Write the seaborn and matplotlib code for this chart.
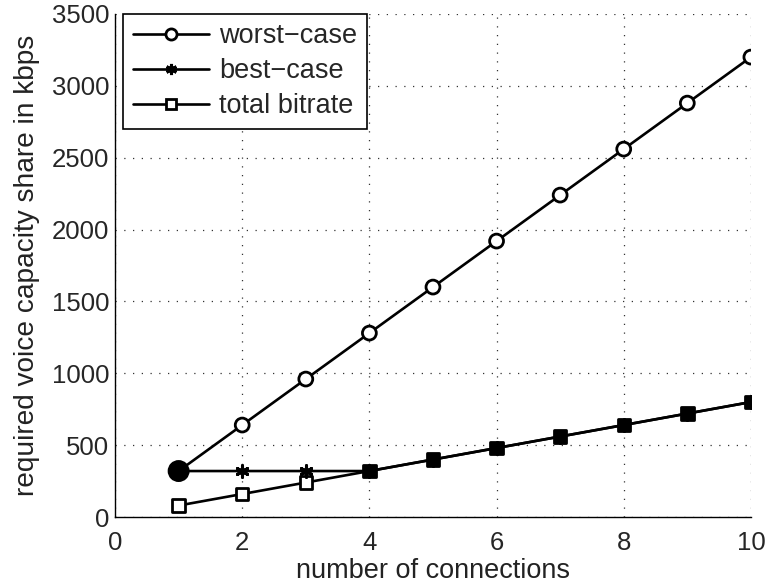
import numpy as np
import pandas as pd
import matplotlib
matplotlib.use("Agg")
import matplotlib.pyplot as plt
import seaborn as sns
from matplotlib.ticker import MultipleLocator
from matplotlib.lines import Line2D

connections = [1, 2, 3, 4, 5, 6, 7, 8, 9, 10]
worst_case = [320, 640, 960, 1280, 1600, 1920, 2240, 2560, 2880, 3200]
best_case = [320, 320, 320, 320, 400, 480, 560, 640, 720, 800]
total_bitrate = [80, 160, 240, 320, 400, 480, 560, 640, 720, 800]
series_names = ["worst\u2212case", "best\u2212case", "total bitrate"]

sns.set_style("white")
plt.rcParams['font.family'] = ['Liberation Sans', 'DejaVu Sans']

df = pd.DataFrame({"x": connections, "worst": worst_case,
                   "best": best_case, "total": total_bitrate})

fig = plt.figure(figsize=(7.67, 5.88), dpi=100)
ax = fig.add_axes([0.150, 0.1207, 0.829, 0.8555])

lw = 1.9
ast = (6, 2, 0)
# total bitrate
tot_fill = ["k" if t == b else "white" for t, b in zip(total_bitrate, best_case)]
sns.lineplot(data=df, x="x", y="total", ax=ax, color="k", lw=lw, zorder=3)
ax.scatter(df["x"], df["total"], marker="s", s=80, facecolors=tot_fill,
           edgecolors="k", linewidths=2.0, zorder=4)
# best case
sns.lineplot(data=df, x="x", y="best", ax=ax, color="k", lw=lw, zorder=3)
ax.scatter(df["x"], df["best"], marker=ast, s=70, color="k", linewidths=2.2, zorder=5)
# worst case
w_fill = ["k" if w == b else "white" for w, b in zip(worst_case, best_case)]
w_size = [190 if w == b else 100 for w, b in zip(worst_case, best_case)]
sns.lineplot(data=df, x="x", y="worst", ax=ax, color="k", lw=lw, zorder=3)
ax.scatter(df["x"], df["worst"], marker="o", s=w_size, facecolors=w_fill,
           edgecolors="k", linewidths=2.0, zorder=6)

ax.set_xlim(0, 10)
ax.set_ylim(0, 3500)
ax.xaxis.set_major_locator(MultipleLocator(2))
ax.xaxis.set_minor_locator(MultipleLocator(0.2))
ax.yaxis.set_major_locator(MultipleLocator(500))
ax.yaxis.set_minor_locator(MultipleLocator(100))
ax.tick_params(which="major", direction="in", length=6, width=1, labelsize=18.5)
ax.tick_params(axis="x", which="major", pad=10)
ax.tick_params(axis="y", which="major", pad=4)
ax.tick_params(which="minor", direction="in", length=3, width=0.8)
ax.grid(True, which="major", linestyle=(0, (1, 6)), color="#333333", linewidth=0.9)
for s in ["top", "right"]:
    ax.spines[s].set_visible(False)
for s in ["left", "bottom"]:
    ax.spines[s].set_color("k")
    ax.spines[s].set_linewidth(1)

ax.set_xlabel("number of connections", fontsize=19.5, labelpad=2, color="#222222")
ax.set_ylabel("required voice capacity share in kbps", fontsize=20.2, color="#222222")
ax.yaxis.set_label_coords(-0.118, 0.5)

handles = [
    Line2D([], [], color="k", lw=lw, marker="o", markersize=8, markerfacecolor="white", markeredgewidth=2),
    Line2D([], [], color="k", lw=lw, marker=ast, markersize=8, markeredgewidth=2.2),
    Line2D([], [], color="k", lw=lw, marker="s", markersize=7.5, markerfacecolor="white", markeredgewidth=2),
]
leg = ax.legend(handles, series_names, loc="upper left", fontsize=19.5, frameon=True,
                fancybox=False, edgecolor="k", framealpha=1, handlelength=2.8,
                borderaxespad=0.0, labelspacing=0.33, handletextpad=0.4,
                borderpad=0.35, bbox_to_anchor=(0.013, 1.0))
leg.get_frame().set_linewidth(1.2)

fig.savefig("out.png", dpi=100)
